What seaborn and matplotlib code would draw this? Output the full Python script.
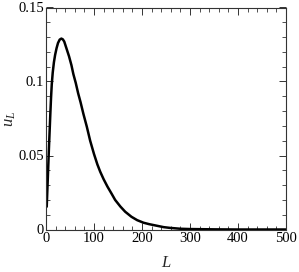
import matplotlib
matplotlib.use("Agg")
import matplotlib.pyplot as plt
import pandas as pd
import seaborn as sns
from matplotlib.ticker import MultipleLocator, FormatStrFormatter

# values
L_values = [1.5, 3, 4.5, 6, 7.5, 9, 10.5, 12, 14, 16.5, 19, 22, 25, 28.5, 32,
            35, 38, 41, 44, 48, 53, 57, 62, 67, 72, 78, 85, 92, 100, 107, 113,
            120, 128, 137, 144, 155, 165, 178, 190, 203, 215, 227, 245, 258,
            280, 300, 350, 400, 450, 500]
u_values = [0.0154, 0.028, 0.041, 0.054, 0.066, 0.078, 0.089, 0.098, 0.106,
            0.113, 0.118, 0.1225, 0.126, 0.1283, 0.129,
            0.1285, 0.127, 0.124, 0.121, 0.117, 0.111, 0.105, 0.099, 0.092,
            0.086, 0.078, 0.0695, 0.060, 0.051, 0.044, 0.039,
            0.034, 0.029, 0.024, 0.020, 0.0155, 0.012, 0.0086, 0.0063, 0.0046,
            0.0036, 0.0028, 0.0016, 0.0011, 0.0005, 0.0003, 0.0001, 0.0, 0.0,
            0.0]

df = pd.DataFrame({"L": L_values, "u": u_values})

sns.set_theme(style="white")
plt.rcParams["font.family"] = ["Liberation Serif", "DejaVu Serif"]
plt.rcParams["mathtext.fontset"] = "custom"
plt.rcParams["mathtext.it"] = "Liberation Serif:italic"
plt.rcParams["mathtext.rm"] = "Liberation Serif"

fig = plt.figure(figsize=(2.99, 2.72), dpi=100)
ax = fig.add_axes([46 / 299, 1 - 229.5 / 272, 240 / 299, 222 / 272])

sns.lineplot(data=df, x="L", y="u", ax=ax, color="black", linewidth=1.8)

ax.set_xlim(0, 500)
ax.set_ylim(0, 0.15)
ax.xaxis.set_major_locator(MultipleLocator(100))
ax.xaxis.set_minor_locator(MultipleLocator(20))
ax.yaxis.set_major_locator(MultipleLocator(0.05))
ax.yaxis.set_minor_locator(MultipleLocator(0.01))
ax.yaxis.set_major_formatter(FormatStrFormatter("%g"))

for s in ax.spines.values():
    s.set_visible(True)
    s.set_color("#333333")
    s.set_linewidth(0.8)

ax.tick_params(which="both", direction="in", top=True, right=True,
               bottom=True, left=True, colors="#333333", labelcolor="black",
               labelsize=10.5, pad=1.5)
ax.tick_params(which="major", length=5, width=0.7)
ax.tick_params(which="minor", length=3, width=0.6)

ax.set_xlabel("$L$", fontsize=12)
ax.set_ylabel("$u_L$", fontsize=12)
ax.xaxis.set_label_coords(0.5, -0.115)
ax.yaxis.set_label_coords(-0.115, 0.5)

fig.savefig("out.png", dpi=100)
